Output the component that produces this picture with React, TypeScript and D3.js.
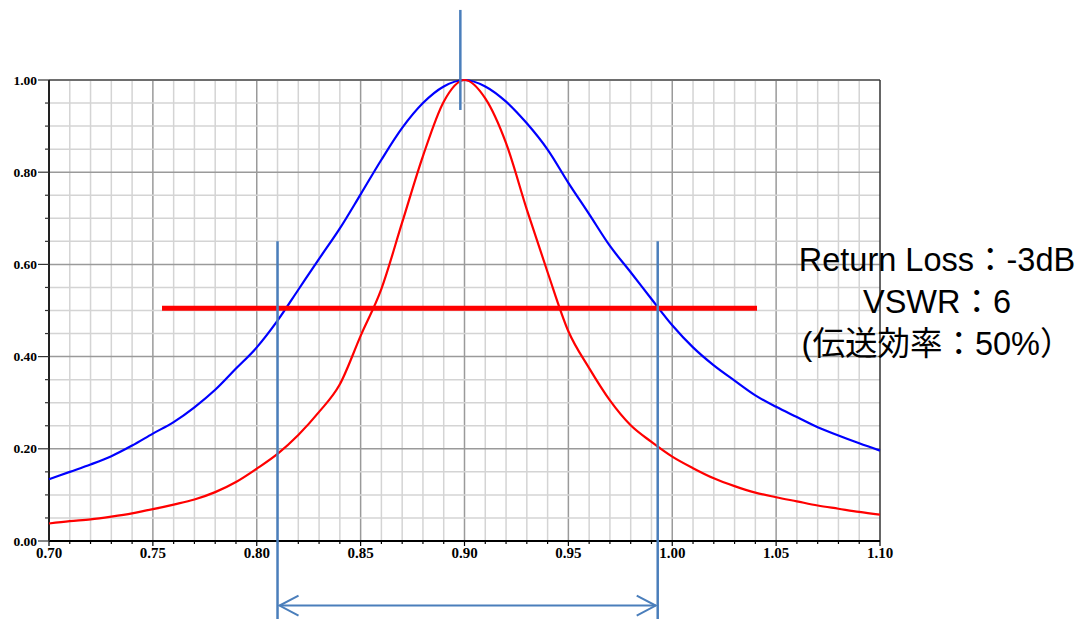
import { useRef, useEffect } from "react";
import * as d3 from "d3";

// frequency (normalised) and the two resonance curves
const freq = [
  0.7, 0.71, 0.72, 0.73, 0.74, 0.75, 0.76, 0.77, 0.78, 0.79, 0.8, 0.81, 0.82, 0.83,
  0.84, 0.85, 0.86, 0.87, 0.88, 0.89, 0.9, 0.91, 0.92, 0.93, 0.94, 0.95, 0.96, 0.97,
  0.98, 0.99, 1.0, 1.01, 1.02, 1.03, 1.04, 1.05, 1.06, 1.07, 1.08, 1.09, 1.1,
];
const blueValues = [
  0.134, 0.15, 0.166, 0.184, 0.207, 0.233, 0.258, 0.29, 0.328, 0.374, 0.42, 0.478,
  0.545, 0.612, 0.678, 0.752, 0.827, 0.896, 0.95, 0.986, 1.0, 0.986, 0.953, 0.906,
  0.849, 0.777, 0.709, 0.64, 0.583, 0.525, 0.468, 0.42, 0.381, 0.348, 0.316, 0.291,
  0.269, 0.247, 0.229, 0.212, 0.196,
];
const redValues = [
  0.038, 0.043, 0.047, 0.053, 0.06, 0.069, 0.079, 0.09, 0.106, 0.128, 0.157, 0.189,
  0.23, 0.28, 0.34, 0.445, 0.547, 0.691, 0.835, 0.953, 1.0, 0.96, 0.863, 0.719,
  0.583, 0.455, 0.375, 0.305, 0.251, 0.215, 0.183, 0.158, 0.136, 0.119, 0.105,
  0.095, 0.086, 0.077, 0.07, 0.063, 0.057,
];

const xTickLabels = ["0.70", "0.75", "0.80", "0.85", "0.90", "0.95", "1.00", "1.05", "1.10"];
const yTickLabels = ["0.00", "0.20", "0.40", "0.60", "0.80", "1.00"];

// annotations (data units)
const halfPowerLevel = 0.505;
const halfPowerSpan = [0.7544, 1.0408];
const bandEdges = [0.81, 0.993];
const bandLineY = [0.65, -0.17];
const centerFreq = 0.898;
const centerLineY = [1.152, 0.935];
const arrowY = -0.14;
const noteLines = ["Return Loss：-3dB", "VSWR：6", "(伝送効率：50%）"];

const COLORS = {
  blue: "#0000ff",
  red: "#ff0000",
  note: "#4a7ebb",
  gridMinor: "#d4d4d4",
  gridMajor: "#9a9a9a",
  frame: "#6e6e6e",
  axis: "#000000",
};

export default function App() {
  const svgRef = useRef<SVGSVGElement>(null);
  const width = 1081;
  const height = 619;

  useEffect(() => {
    document.body.style.margin = "0";
    if (!svgRef.current) return;
    const svg = d3.select(svgRef.current);
    svg.selectAll("*").remove();

    const x = d3.scaleLinear().domain([0.7, 1.1]).range([49, 880]);
    const y = d3.scaleLinear().domain([0, 1]).range([541, 80]);

    const minorX = d3.range(71, 110).map((v) => v / 100);
    const minorY = d3.range(1, 20).map((v) => v / 20);

    const g = svg.append("g");

    // grid
    g.append("g")
      .selectAll("line")
      .data(minorX)
      .enter()
      .append("line")
      .attr("x1", (d) => x(d))
      .attr("x2", (d) => x(d))
      .attr("y1", y(0))
      .attr("y2", y(1))
      .attr("stroke", (d) => (Math.round(d * 100) % 5 === 0 ? COLORS.gridMajor : COLORS.gridMinor))
      .attr("stroke-width", 1.5);

    g.append("g")
      .selectAll("line")
      .data(minorY)
      .enter()
      .append("line")
      .attr("x1", x(0.7))
      .attr("x2", x(1.1))
      .attr("y1", (d) => y(d))
      .attr("y2", (d) => y(d))
      .attr("stroke", (d) => (Math.round(d * 20) % 4 === 0 ? COLORS.gridMajor : COLORS.gridMinor))
      .attr("stroke-width", 1.5);

    // frame
    g.append("line")
      .attr("x1", x(0.7)).attr("x2", x(1.1)).attr("y1", y(1)).attr("y2", y(1))
      .attr("stroke", COLORS.frame).attr("stroke-width", 2);
    g.append("line")
      .attr("x1", x(1.1)).attr("x2", x(1.1)).attr("y1", y(1)).attr("y2", y(0))
      .attr("stroke", "#333").attr("stroke-width", 1.5);

    // axes
    const xAxis = g.append("g").attr("transform", `translate(0,${y(0)})`);
    xAxis.append("line")
      .attr("x1", x(0.7)).attr("x2", x(1.1))
      .attr("stroke", COLORS.axis).attr("stroke-width", 2);
    xAxis.selectAll("line.tick")
      .data([0.7, ...minorX, 1.1])
      .enter()
      .append("line")
      .attr("class", "tick")
      .attr("x1", (d) => x(d)).attr("x2", (d) => x(d))
      .attr("y1", 0)
      .attr("y2", (d) => (Math.round(d * 100) % 5 === 0 ? 5 : 3))
      .attr("stroke", COLORS.axis).attr("stroke-width", 1.2);
    xAxis.selectAll("text")
      .data(xTickLabels)
      .enter()
      .append("text")
      .attr("x", (d) => x(+d))
      .attr("y", 17)
      .attr("text-anchor", "middle")
      .attr("font-family", "'Liberation Serif', serif")
      .attr("font-weight", "bold")
      .attr("font-size", "15px")
      .text((d) => d);

    const yAxis = g.append("g").attr("transform", `translate(${x(0.7)},0)`);
    yAxis.append("line")
      .attr("y1", y(0)).attr("y2", y(1))
      .attr("stroke", "#222").attr("stroke-width", 2);
    yAxis.selectAll("line.tick")
      .data([0, ...minorY, 1])
      .enter()
      .append("line")
      .attr("class", "tick")
      .attr("y1", (d) => y(d)).attr("y2", (d) => y(d))
      .attr("x1", (d) => (Math.round(d * 20) % 4 === 0 ? -11 : -4))
      .attr("x2", 0)
      .attr("stroke", "#333").attr("stroke-width", 1.2);
    yAxis.selectAll("text")
      .data(yTickLabels)
      .enter()
      .append("text")
      .attr("x", -12)
      .attr("y", (d) => y(+d) + 4.5)
      .attr("text-anchor", "end")
      .attr("font-family", "'Liberation Serif', serif")
      .attr("font-weight", "bold")
      .attr("font-size", "13.5px")
      .text((d) => d);

    // curves
    const line = d3
      .line<number>()
      .x((_, i) => x(freq[i]))
      .y((d) => y(d))
      .curve(d3.curveMonotoneX);

    g.append("path")
      .datum(blueValues)
      .attr("fill", "none")
      .attr("stroke", COLORS.blue)
      .attr("stroke-width", 2.2)
      .attr("d", line);

    g.append("path")
      .datum(redValues)
      .attr("fill", "none")
      .attr("stroke", COLORS.red)
      .attr("stroke-width", 2.2)
      .attr("d", line);

    // half-power bar
    g.append("line")
      .attr("x1", x(halfPowerSpan[0])).attr("x2", x(halfPowerSpan[1]))
      .attr("y1", y(halfPowerLevel)).attr("y2", y(halfPowerLevel))
      .attr("stroke", COLORS.red).attr("stroke-width", 5);

    // band edges and center marker
    g.append("g")
      .selectAll("line")
      .data(bandEdges)
      .enter()
      .append("line")
      .attr("x1", (d) => x(d)).attr("x2", (d) => x(d))
      .attr("y1", y(bandLineY[0])).attr("y2", y(bandLineY[1]))
      .attr("stroke", COLORS.note).attr("stroke-width", 2.5);

    g.append("line")
      .attr("x1", x(centerFreq)).attr("x2", x(centerFreq))
      .attr("y1", y(centerLineY[0])).attr("y2", y(centerLineY[1]))
      .attr("stroke", COLORS.note).attr("stroke-width", 2.5);

    // bandwidth arrow
    const ay = y(arrowY);
    const ax0 = x(bandEdges[0]) + 2;
    const ax1 = x(bandEdges[1]) - 2;
    g.append("line")
      .attr("x1", ax0).attr("x2", ax1).attr("y1", ay).attr("y2", ay)
      .attr("stroke", COLORS.note).attr("stroke-width", 2);
    g.append("path")
      .attr("d", `M${ax0 + 19},${ay - 10}L${ax0},${ay}L${ax0 + 19},${ay + 10}`)
      .attr("fill", "none").attr("stroke", COLORS.note).attr("stroke-width", 2);
    g.append("path")
      .attr("d", `M${ax1 - 19},${ay - 10}L${ax1},${ay}L${ax1 - 19},${ay + 10}`)
      .attr("fill", "none").attr("stroke", COLORS.note).attr("stroke-width", 2);

    // note text
    g.append("g")
      .selectAll("text")
      .data(noteLines)
      .enter()
      .append("text")
      .attr("x", 937)
      .attr("y", (_, i) => 271 + i * 42)
      .attr("text-anchor", "middle")
      .attr("font-family", "'Liberation Sans', Arial, 'Noto Sans CJK JP', sans-serif")
      .attr("font-size", "32.5px")
      .attr("fill", "#000")
      .text((d) => d);
  }, []);

  return (
    <svg
      ref={svgRef}
      width={width}
      height={height}
      viewBox={`0 0 ${width} ${height}`}
      style={{ display: "block", background: "#fff" }}
    />
  );
}
